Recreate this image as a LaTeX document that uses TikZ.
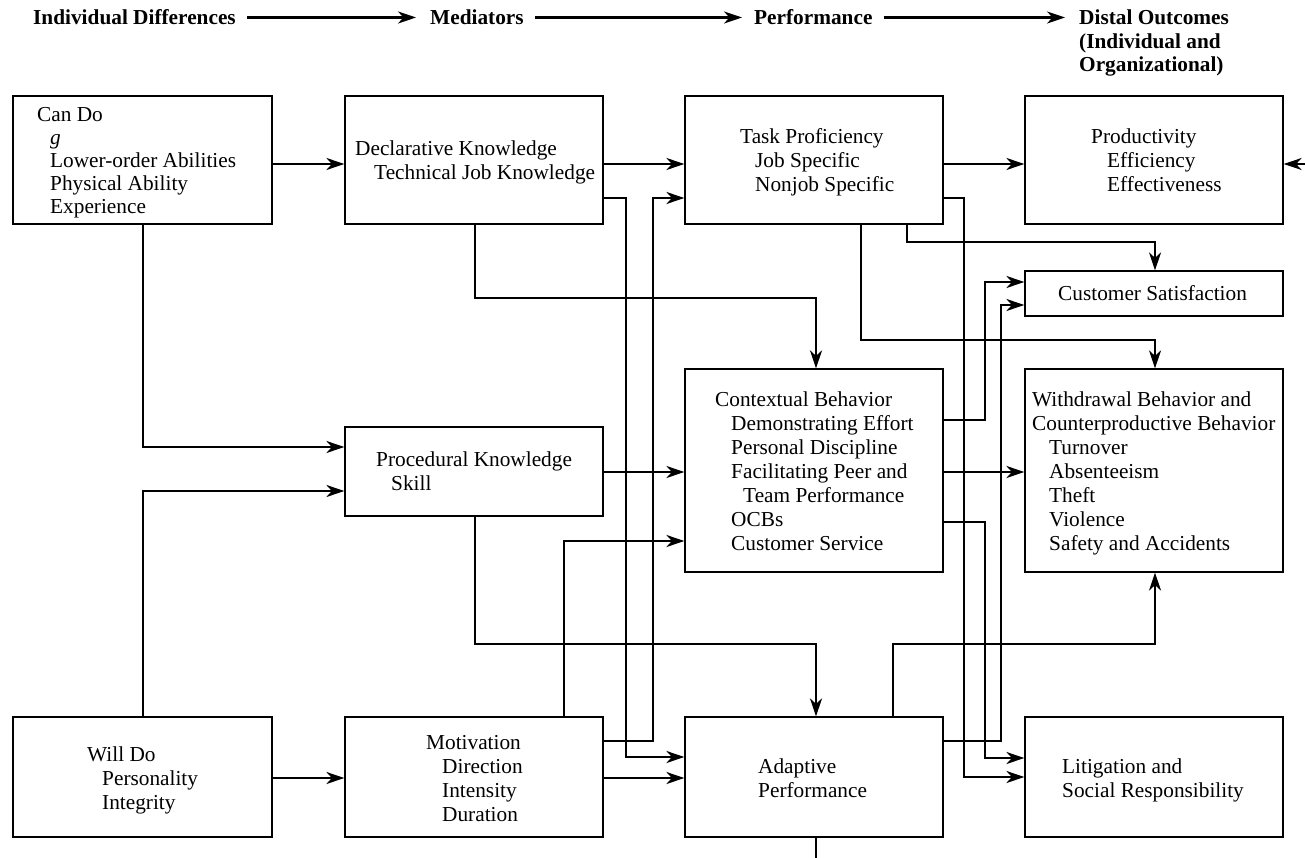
\documentclass[tikz,border=0pt]{standalone}
\usepackage{fontspec}
\setmainfont{Liberation Serif}
\usetikzlibrary{arrows.meta}
\tikzset{
  box/.style={draw, line width=1.2pt, inner sep=0pt},
  conn/.style={line width=2.2pt},
  arr/.style={conn, -{Stealth[length=18pt,width=12pt,inset=5.5pt]}},
  txt/.style={inner sep=0pt, anchor=base west, font=\fontsize{21.3}{24}\selectfont},
  hdr/.style={inner sep=0pt, anchor=base west, font=\fontsize{21.3}{24}\selectfont\bfseries},
}
\newcommand\tline[4]{\node[txt] (#1) at (#2,#3) {#4};}
\begin{document}
\begin{tikzpicture}[x=1pt,y=-1pt]
\useasboundingbox (0,0) rectangle (1305,858);

% header
\node[hdr] (h1) at (33,25) {Individual Differences};
\node[hdr] (h2) at (430,25) {Mediators};
\node[hdr] (h3) at (754,25) {Performance};
\node[hdr] (h4) at (1079,25) {Distal Outcomes};
\node[hdr] (h5) at (1079,48.5) {(Individual and};
\node[hdr] (h6) at (1079,72) {Organizational)};
\draw[arr] ([xshift=11pt,yshift=7.5pt]h1.base east) -- ([xshift=-14pt,yshift=7.5pt]h2.base west);
\draw[arr] ([xshift=11pt,yshift=7.5pt]h2.base east) -- ([xshift=-12pt,yshift=7.5pt]h3.base west);
\draw[arr] ([xshift=11pt,yshift=7.5pt]h3.base east) -- ([xshift=-14pt,yshift=7.5pt]h4.base west);

% boxes
\node[box, minimum width=259pt, minimum height=128pt] (cando) at (142.5,160) {};
\node[box, minimum width=258pt, minimum height=128pt] (decl) at (474,160) {};
\node[box, minimum width=258pt, minimum height=128pt] (task) at (814,160) {};
\node[box, minimum width=258pt, minimum height=128pt] (prod) at (1154,160) {};
\node[box, minimum width=258pt, minimum height=45pt] (cs) at (1154,293.5) {};
\node[box, minimum width=258pt, minimum height=203pt] (ctx) at (814,470.5) {};
\node[box, minimum width=258pt, minimum height=203pt] (wd) at (1154,470.5) {};
\node[box, minimum width=258pt, minimum height=89pt] (proc) at (474,471.5) {};
\node[box, minimum width=259pt, minimum height=120pt] (will) at (142.5,777) {};
\node[box, minimum width=258pt, minimum height=120pt] (mot) at (474,777) {};
\node[box, minimum width=258pt, minimum height=120pt] (adp) at (814,777) {};
\node[box, minimum width=258pt, minimum height=120pt] (lit) at (1154,777) {};

% texts
\tline{cd1}{37}{122}{Can Do}
\tline{cd2}{50}{145}{\textit{g}}
\tline{cd3}{50}{168}{Lower-order Abilities}
\tline{cd4}{50}{191}{Physical Ability}
\tline{cd5}{50}{214}{Experience}

\tline{dk1}{355}{156}{Declarative Knowledge}
\tline{dk2}{374}{180}{Technical Job Knowledge}

\tline{tp1}{740}{144}{Task Proficiency}
\tline{tp2}{755}{168}{Job Specific}
\tline{tp3}{755}{192}{Nonjob Specific}

\tline{pr1}{1091}{144}{Productivity}
\tline{pr2}{1107}{168}{Efficiency}
\tline{pr3}{1107}{192}{Effectiveness}

\tline{cs1}{1058}{301}{Customer Satisfaction}

\tline{cb1}{715}{406}{Contextual Behavior}
\tline{cb2}{731}{430}{Demonstrating Effort}
\tline{cb3}{731}{454}{Personal Discipline}
\tline{cb4}{731}{478}{Facilitating Peer and}
\tline{cb5}{743}{502}{Team Performance}
\tline{cb6}{731}{526}{OCBs}
\tline{cb7}{731}{550}{Customer Service}

\tline{wb1}{1032}{406}{Withdrawal Behavior and}
\tline{wb2}{1032}{430}{Counterproductive Behavior}
\tline{wb3}{1049}{454}{Turnover}
\tline{wb4}{1049}{478}{Absenteeism}
\tline{wb5}{1049}{502}{Theft}
\tline{wb6}{1049}{526}{Violence}
\tline{wb7}{1049}{550}{Safety and Accidents}

\tline{pk1}{376}{466}{Procedural Knowledge}
\tline{pk2}{391}{490}{Skill}

\tline{wd1}{87}{761}{Will Do}
\tline{wd2}{102}{785}{Personality}
\tline{wd3}{102}{809}{Integrity}

\tline{mo1}{426}{749}{Motivation}
\tline{mo2}{442}{773}{Direction}
\tline{mo3}{442}{797}{Intensity}
\tline{mo4}{442}{821}{Duration}

\tline{ap1}{758}{773}{Adaptive}
\tline{ap2}{758}{797}{Performance}

\tline{li1}{1062}{773}{Litigation and}
\tline{li2}{1062}{797}{Social Responsibility}

% connectors
\draw[arr] (cando.east |- 0,164) -- (decl.west |- 0,164);
\draw[arr] (decl.east |- 0,164) -- (task.west |- 0,164);
\draw[arr] (task.east |- 0,164) -- (prod.west |- 0,164);
\coordinate (rin) at (1305,164);
\draw[arr] (rin) -- (prod.east |- rin);
\draw[arr] (decl.east |- 0,198) -| (626,757) -- (adp.west |- 0,757);
\draw[arr] (mot.east |- 0,741) -| (653,198) -- (task.west |- 0,198);
\draw[arr] (decl.south -| 475,0) |- (816,298) -- (ctx.north -| 816,0);
\draw[arr] (cando.south -| 143,0) |- (proc.west |- 0,447);
\draw[arr] (will.north -| 143,0) |- (proc.west |- 0,491);
\draw[arr] (proc.east |- 0,472) -- (ctx.west |- 0,472);
\draw[arr] (mot.north -| 564,0) |- (ctx.west |- 0,541);
\draw[arr] (proc.south -| 475,0) |- (816,644) -- (adp.north -| 816,0);
\draw[arr] (will.east |- 0,778) -- (mot.west |- 0,778);
\draw[arr] (mot.east |- 0,778) -- (adp.west |- 0,778);
\draw[arr] (adp.north -| 893,0) |- (1155,644) -- (wd.south -| 1155,0);
\coordinate (bout) at (816,858);
\draw[conn] (adp.south -| bout) -- (bout);
\draw[arr] (task.south -| 907,0) |- (1155,242) -- (cs.north -| 1155,0);
\draw[arr] (task.south -| 861,0) |- (1155,340) -- (wd.north -| 1155,0);
\draw[arr] (task.east |- 0,198) -| (964,777) -- (lit.west |- 0,777);
\draw[arr] (ctx.east |- 0,420) -| (985,282) -- (cs.west |- 0,282);
\draw[arr] (adp.east |- 0,741) -| (1001,305) -- (cs.west |- 0,305);
\draw[arr] (ctx.east |- 0,522) -| (985,758) -- (lit.west |- 0,758);
\draw[arr] (ctx.east |- 0,472) -- (wd.west |- 0,472);
\end{tikzpicture}
\end{document}
